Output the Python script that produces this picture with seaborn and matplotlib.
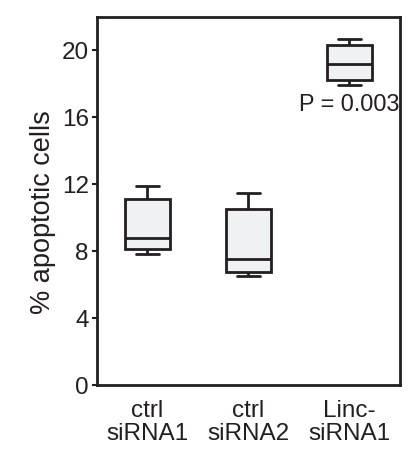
import matplotlib
matplotlib.use("Agg")
import matplotlib.pyplot as plt
import seaborn as sns
import pandas as pd

# five-number summaries per condition: min, Q1, median, Q3, max
groups = ["ctrl\nsiRNA1", "ctrl\nsiRNA2", "Linc-\nsiRNA1"]
ctrl_sirna1 = [7.8, 8.1, 8.8, 11.1, 11.9]
ctrl_sirna2 = [6.5, 6.75, 7.55, 10.5, 11.5]
linc_sirna1 = [17.9, 18.2, 19.2, 20.3, 20.7]
p_label = "P = 0.003"
yticks = [0, 4, 8, 12, 16, 20]

df = pd.DataFrame({
    "group": [groups[0]] * 5 + [groups[1]] * 5 + [groups[2]] * 5,
    "value": ctrl_sirna1 + ctrl_sirna2 + linc_sirna1,
})

sns.set_style("white")
plt.rcParams["font.family"] = ["Liberation Sans", "DejaVu Sans"]

edge = "#231f20"
fig = plt.figure(figsize=(4.11, 4.53), dpi=100)
ax = fig.add_axes([0.236, 0.150, 0.737, 0.813])

sns.boxplot(
    data=df, x="group", y="value", order=groups, ax=ax,
    whis=(0, 100), width=0.45, color="#f0f1f3", showfliers=False,
    linewidth=2.0, linecolor=edge,
    boxprops=dict(facecolor="#f0f1f3", edgecolor=edge),
    medianprops=dict(color=edge, linewidth=2.0),
    whiskerprops=dict(color=edge, linewidth=2.0),
    capprops=dict(color=edge, linewidth=2.0),
    capwidths=0.23,
)

ax.set_xlim(-0.5, 2.5)
ax.set_ylim(0, 22)
ax.set_yticks(yticks)
ax.set_yticklabels([str(t) for t in yticks], fontsize=17.5, color=edge)
ax.tick_params(axis="y", left=True, length=3.5, width=1.5, color=edge, pad=2.5)
ax.tick_params(axis="x", bottom=False, labelsize=17.5, labelcolor=edge, pad=7)
for lbl in ax.get_xticklabels():
    lbl.set_linespacing(1.1)
ax.set_xlabel("")
ax.set_ylabel("% apoptotic cells", fontsize=19.5, color=edge)
ax.yaxis.set_label_coords(-0.135, 0.47)

for s in ax.spines.values():
    s.set_visible(True)
    s.set_color(edge)
    s.set_linewidth(2.0)

ax.text(2, 16.75, p_label, ha="center", va="center", fontsize=16.8, color=edge)

fig.savefig("out.png", dpi=100)
